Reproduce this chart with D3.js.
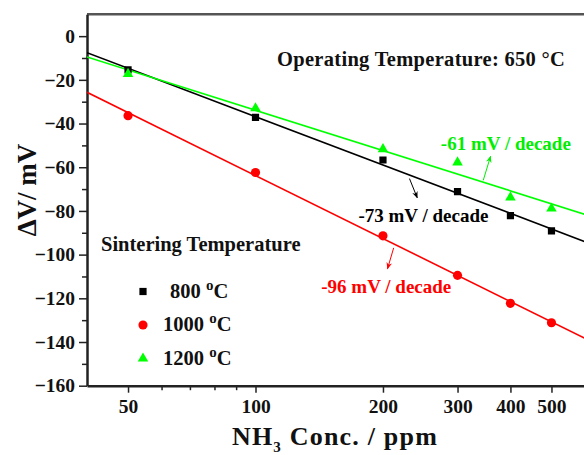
<!DOCTYPE html>
<html>
<head>
<meta charset="utf-8">
<script src="https://cdn.jsdelivr.net/npm/d3@7"></script>
<style>
  body { margin: 0; background: #fff; }
  text { font-family: "Liberation Serif", "Times New Roman", serif; font-weight: bold; }
</style>
</head>
<body>
<div id="chart"></div>
<script>
// NH3 concentrations (ppm) and sensor response (mV)
var conc = [50, 100, 200, 300, 400, 500];
var dv800 = [-15.4, -37.2, -56.7, -71.2, -82.2, -89.1];
var dv1000 = [-36.4, -62.4, -91.4, -109.5, -122.3, -131.2];
var dv1200 = [-17.3, -33.0, -51.7, -57.8, -73.8, -78.9];

var seriesNames = ["800", "1000", "1200"];
var seriesColors = ["#000000", "#ff0000", "#00ff00"];

// axis ticks
var xMajor = [50, 100, 200, 300, 400, 500];
var xMinor = [60, 70, 80, 90];
var yMajor = [-160, -140, -120, -100, -80, -60, -40, -20, 0];
var yMinor = [-150, -130, -110, -90, -70, -50, -30, -10];

// slope labels, placed in data units
var slopeLabels = [
  { text: "-73 mV / decade", color: "#000000", x: 175, y: -85.2, from: [231, -65.2], to: [241, -74] },
  { text: "-96 mV / decade", color: "#ff0000", x: 143, y: -117.4, from: [212, -96.9], to: [205, -106.5] },
  { text: "-61 mV / decade", color: "#00ee00", x: 274, y: -52, from: [345, -66], to: [359, -55] }
];

var w = 584, h = 455;
var pLeft = 87, pTop = 14.3, pRight = 585, pBottom = 385.7;

var svg = d3.select("#chart").append("svg")
  .attr("width", w)
  .attr("height", h);

var x = d3.scaleLog().domain([40, 600]).range([pLeft, pRight]);
var y = d3.scaleLinear().domain([-160, 10]).range([pBottom, pTop]);

// arrow heads
var defs = svg.append("defs");
seriesColors.concat(["#00ee00"]).forEach(function(c, i) {
  defs.append("marker")
    .attr("id", "arrow" + i)
    .attr("viewBox", "0 0 10 10")
    .attr("refX", 9).attr("refY", 5)
    .attr("markerWidth", 7).attr("markerHeight", 7)
    .attr("markerUnits", "userSpaceOnUse")
    .attr("orient", "auto")
    .append("path")
    .attr("d", "M0,1 L10,5 L0,9 L3,5 z")
    .attr("fill", c);
});

defs.append("clipPath").attr("id", "plotClip")
  .append("rect")
  .attr("x", pLeft).attr("y", pTop)
  .attr("width", pRight - pLeft).attr("height", pBottom - pTop);

// top frame line
svg.append("line")
  .attr("x1", pLeft).attr("x2", pRight)
  .attr("y1", pTop).attr("y2", pTop)
  .attr("stroke", "#555")
  .attr("stroke-width", 2.5);

// y axis
svg.append("g")
  .attr("transform", "translate(" + pLeft + ",0)")
  .call(d3.axisLeft(y).tickValues(yMajor).tickSize(8).tickSizeOuter(0).tickPadding(4));
svg.append("g")
  .attr("transform", "translate(" + pLeft + ",0)")
  .call(d3.axisLeft(y).tickValues(yMinor).tickSize(5).tickSizeOuter(0).tickFormat(""))
  .select(".domain").remove();

// x axis
svg.append("g")
  .attr("transform", "translate(0," + pBottom + ")")
  .call(d3.axisBottom(x).tickValues(xMajor).tickSize(7).tickSizeOuter(0).tickPadding(6).tickFormat(d3.format("d")));
svg.append("g")
  .attr("transform", "translate(0," + pBottom + ")")
  .call(d3.axisBottom(x).tickValues(xMinor).tickSize(4.5).tickSizeOuter(0).tickFormat(""))
  .select(".domain").remove();

svg.selectAll(".domain").attr("stroke", "#222").attr("stroke-width", 2.5);
svg.selectAll(".tick line").attr("stroke", "#222").attr("stroke-width", 1.5);
svg.selectAll(".tick text")
  .attr("font-size", 19.5)
  .attr("font-family", "Liberation Serif, Times New Roman, serif")
  .attr("font-weight", "bold")
  .attr("fill", "#111");

// axis titles
svg.append("text")
  .attr("transform", "translate(36,190) rotate(-90)")
  .attr("text-anchor", "middle")
  .attr("font-size", 27)
  .attr("fill", "#111")
  .text("\u0394V/ mV");

var xt = svg.append("text")
  .attr("x", 335).attr("y", 445)
  .attr("text-anchor", "middle")
  .attr("font-size", 26)
  .attr("letter-spacing", 1.2)
  .attr("fill", "#111");
xt.append("tspan").text("NH");
xt.append("tspan").attr("font-size", 15).attr("dy", 7).text("3");
xt.append("tspan").attr("dy", -7).text(" Conc. / ppm");

// fitted lines (least squares in log10 concentration)
var allSeries = [dv800, dv1000, dv1200];
var plot = svg.append("g").attr("clip-path", "url(#plotClip)");

allSeries.forEach(function(vals, i) {
  var lx = conc.map(function(c) { return Math.log10(c); });
  var mx = d3.mean(lx), my = d3.mean(vals);
  var sxy = d3.sum(lx, function(v, k) { return (v - mx) * (vals[k] - my); });
  var sxx = d3.sum(lx, function(v) { return (v - mx) * (v - mx); });
  var slope = sxy / sxx;
  var fit = function(c) { return my + slope * (Math.log10(c) - mx); };
  var ends = x.domain();
  plot.append("line")
    .attr("x1", x(ends[0])).attr("y1", y(fit(ends[0])))
    .attr("x2", x(ends[1])).attr("y2", y(fit(ends[1])))
    .attr("stroke", seriesColors[i])
    .attr("stroke-width", 1.6);
});

var symbols = [d3.symbolSquare, d3.symbolCircle, d3.symbolTriangle];
var sizes = [52, 66, 48];

allSeries.forEach(function(vals, i) {
  plot.selectAll(".pt" + i)
    .data(vals)
    .enter()
    .append("path")
    .attr("class", "pt" + i)
    .attr("transform", function(d, k) { return "translate(" + x(conc[k]) + "," + y(d) + ")"; })
    .attr("d", d3.symbol().type(symbols[i]).size(sizes[i]))
    .attr("fill", seriesColors[i]);
});

// slope annotations
slopeLabels.forEach(function(a, i) {
  svg.append("text")
    .attr("x", x(a.x)).attr("y", y(a.y))
    .attr("font-size", 19)
    .attr("fill", a.color)
    .text(a.text);
  svg.append("line")
    .attr("x1", x(a.from[0])).attr("y1", y(a.from[1]))
    .attr("x2", x(a.to[0])).attr("y2", y(a.to[1]))
    .attr("stroke", a.color)
    .attr("stroke-width", 1)
    .attr("marker-end", "url(#arrow" + (i === 2 ? 3 : i) + ")");
});

svg.append("text")
  .attr("x", 277).attr("y", 65.5)
  .attr("font-size", 20.5)
  .attr("letter-spacing", 0.3)
  .attr("fill", "#111")
  .text("Operating Temperature: 650 \u00B0C");

// legend
var legend = svg.append("g").attr("transform", "translate(101,250.5)");
legend.append("text")
  .attr("x", 0).attr("y", 0)
  .attr("font-size", 20.5)
  .attr("fill", "#111")
  .text("Sintering Temperature");

var rows = legend.selectAll(".row")
  .data(seriesNames)
  .enter()
  .append("g")
  .attr("class", "row")
  .attr("transform", function(d, i) { return "translate(42," + (41 + i * 33.5) + ")"; });

rows.append("path")
  .attr("d", function(d, i) { return d3.symbol().type(symbols[i]).size(sizes[i])(); })
  .attr("fill", function(d, i) { return seriesColors[i]; });

var lt = rows.append("text")
  .attr("x", function(d) { return d.length === 3 ? 27 : 20; })
  .attr("y", 6)
  .attr("font-size", 20.5)
  .attr("fill", "#111");
lt.append("tspan").text(function(d) { return d + " "; });
lt.append("tspan").attr("font-size", 15).attr("dy", -8).text("o");
lt.append("tspan").attr("dy", 8).text("C");
</script>
</body>
</html>
